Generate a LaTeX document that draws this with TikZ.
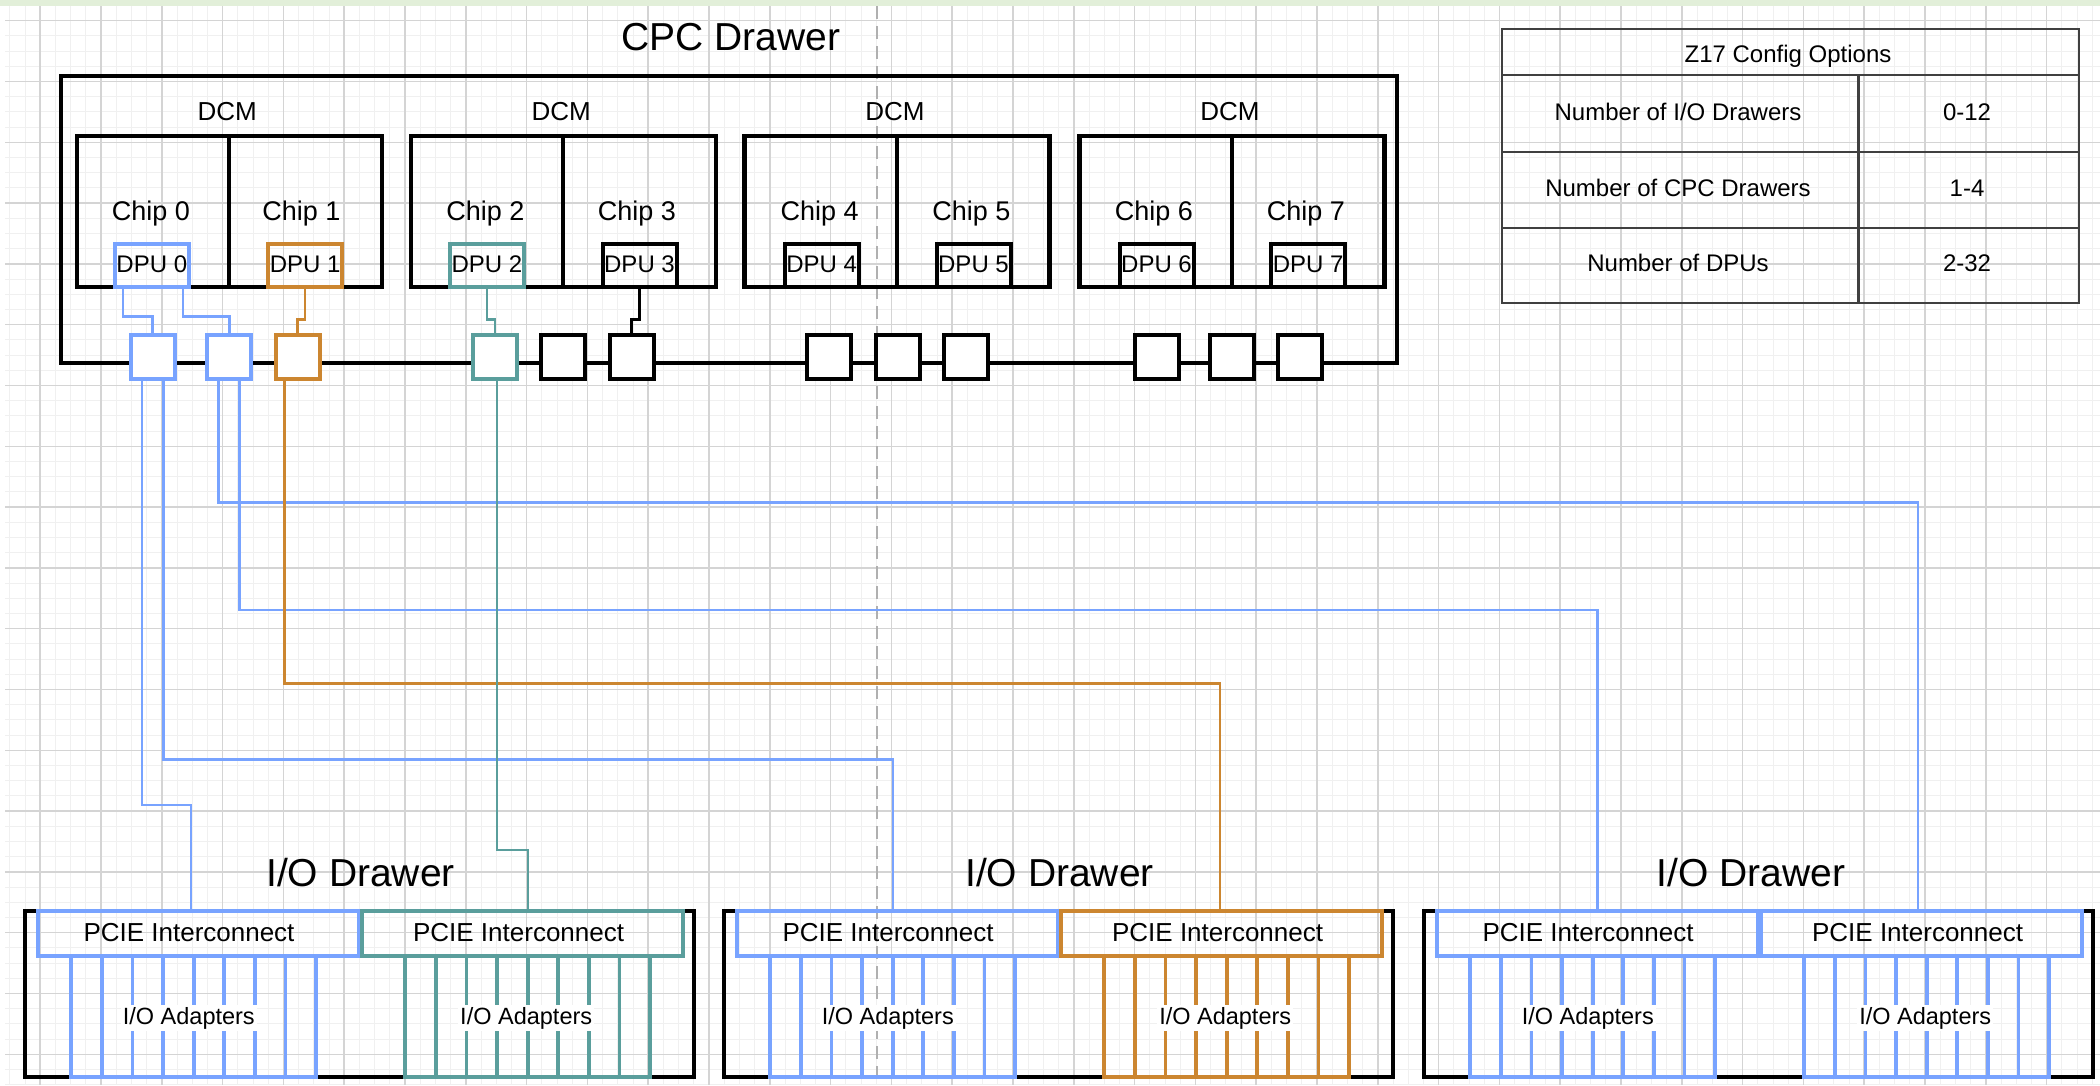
\documentclass[tikz,border=0pt]{standalone}
\usepackage{fontspec}
\setmainfont{Liberation Sans}
\usetikzlibrary{calc}
\definecolor{cblue}{HTML}{78A3FF}
\definecolor{cteal}{HTML}{5A9E9C}
\definecolor{corange}{HTML}{CC8630}
\definecolor{gmaj}{HTML}{D4D4D4}
\definecolor{gmin}{HTML}{F0F0F0}
\definecolor{band}{HTML}{E2EFD9}
\definecolor{dashg}{HTML}{B0B0B0}
\definecolor{tabline}{HTML}{404040}
\newcommand\fs[1]{\fontsize{#1}{#1}\selectfont}
\begin{document}
\begin{tikzpicture}[x=1pt,y=-1pt,
  blk/.style={draw=black,line width=4.2pt},
  cbox/.style={line width=4pt,inner sep=0pt,outer sep=0pt},
  port/.style={cbox,fill=white,minimum width=44pt,minimum height=44pt},
  dpubox/.style={cbox,minimum width=74pt,minimum height=43.8pt},
  dcmbox/.style={blk,inner sep=0pt,outer sep=0pt,minimum width=305pt,minimum height=151.6pt},
  pcie/.style={cbox,minimum width=321pt,minimum height=45.3pt},
  conn/.style={line width=2.6pt},
  lbl/.style={anchor=base,inner sep=0pt,font=\fs{#1}},
]
\useasboundingbox (0,0) rectangle (2100,1085);
% background and grid
\fill[white] (0,0) rectangle (2100,1085);
\foreach \i in {0,...,137} \draw[gmin,line width=1pt] ({9.8+15.2*\i},0) -- ({9.8+15.2*\i},1085);
\foreach \i in {0,...,71} \draw[gmin,line width=1pt] (0,{5.5+15.2*\i}) -- (2100,{5.5+15.2*\i});
\foreach \i in {0,...,33} \draw[gmaj,line width=1.5pt] ({40.2+60.8*\i},0) -- ({40.2+60.8*\i},1085);
\foreach \i in {0,...,17} \draw[gmaj,line width=1.5pt] (0,{20.7+60.8*\i}) -- (2100,{20.7+60.8*\i});
\fill[white] (0,0) rectangle (5,1085);
\fill[band] (0,0) rectangle (2100,6);
\draw[dashg,line width=2.8pt,dash pattern=on 13pt off 7pt] (877,6) -- (877,1085);

% CPC drawer
\node[lbl=39] (cpct) at (731,50.7) {CPC Drawer};
\node[blk,inner sep=0pt,outer sep=0pt,minimum width=1336.1pt,minimum height=287.3pt] (cpc) at (729.25,219.65) {};

\foreach \n/\cx in {1/229.25,2/563.15,3/897,4/1232}{
  \node[dcmbox] (dcm\n) at (\cx,211.5) {};
  \draw[blk] (dcm\n.north) -- (dcm\n.south);
  \node[lbl=26] (dcml\n) at (\cx-2,120.7) {DCM};
}
\foreach \n/\cx in {0/150.9,1/301.3,2/485.3,3/637,4/819.6,5/971.4,6/1154,7/1305.8}{
  \node[lbl=27] (chip\n) at (\cx,220) {Chip \n};
}
\foreach \n/\cx/\col in {0/151.8/cblue,1/305.1/corange,2/487/cteal,3/639.5/black,4/821.6/black,5/973.5/black,6/1156.5/black,7/1308.2/black}{
  \node[dpubox,draw=\col] (dpu\n) at (\cx,265.4) {};
  \node[lbl=24] (dput\n) at (\cx,272.7) {DPU \n};
}

% connectors DPU -> ports
\draw[conn,cblue] ([xshift=-29pt]dpu0.south) -- ++(0,29.4) -| (229.2-76.7,334.7);
\draw[conn,cblue] ([xshift=31.2pt]dpu0.south) -- ++(0,29.4) -| (229.2,334.7);
\draw[conn,corange] (dpu1.south) -- ++(0,32) -| (297.5,334.7);
\draw[conn,cteal] (dpu2.south) -- ++(0,32) -| (495,334.7);
\draw[conn,black] (dpu3.south) -- ++(0,32) -| (631.7,334.7);

% ports
\foreach \n/\cx/\col in {A/152.5/cblue,B/229.2/cblue,C/297.5/corange,D/495/cteal,E/563/black,F/631.7/black,G/828.8/black,H/897.5/black,I/966.3/black,J/1156.5/black,K/1232.4/black,L/1300.3/black}{
  \node[port,draw=\col] (p\n) at (\cx,356.7) {};
}

% table
\node[draw=tabline,line width=2.2pt,inner sep=0pt,minimum width=576.8pt,minimum height=274pt] (tab) at (1790.2,166.3) {};
\draw[tabline,line width=2.2pt] (1501.8,75) -- (2078.6,75);
\draw[tabline,line width=2.2pt] (1501.8,151.7) -- (2078.6,151.7);
\draw[tabline,line width=2.2pt] (1501.8,228.3) -- (2078.6,228.3);
\draw[tabline,line width=2.2pt] (1858.5,75) -- (tab.south -| 1858.5,0);
\node[lbl=24] (th) at (1788,62.7) {Z17 Config Options};
\node[lbl=24] (tr1) at (1678,120) {Number of I/O Drawers};
\node[lbl=24] (tv1) at (1967,120) {0-12};
\node[lbl=24] (tr2) at (1678,196.7) {Number of CPC Drawers};
\node[lbl=24] (tv2) at (1967,196.7) {1-4};
\node[lbl=24] (tr3) at (1678,271.7) {Number of DPUs};
\node[lbl=24] (tv3) at (1967,271.7) {2-32};

% I/O drawers
\foreach \n/\ox/\ca/\cb/\tx in {1/0/cblue/cteal/360.5,2/699/cblue/corange/1059.5,3/1399/cblue/cblue/1751}{
  \node[lbl=39] (iot\n) at (\tx,886) {I/O Drawer};
  \node[blk,inner sep=0pt,outer sep=0pt,minimum width=669pt,minimum height=166.6pt] (io\n) at (\ox+359.8,994) {};
  \node[pcie,draw=\ca] (pa\n) at (\ox+198.5,933.35) {};
  \node[pcie,draw=\cb] (pb\n) at (\ox+522.5,933.35) {};
  \node[lbl=26] (pat\n) at (\ox+189,941.7) {PCIE Interconnect};
  \node[lbl=26] (pbt\n) at (\ox+518.6,941.7) {PCIE Interconnect};
  \draw[\ca,line width=3.8pt] (\ox+71.2,956) rectangle (\ox+316,1077.3);
  \foreach \k in {1,...,7} \draw[\ca,line width=3.8pt] ({\ox+71.2+30.6*\k},956) -- ({\ox+71.2+30.6*\k},1077.3);
  \draw[\cb,line width=3.8pt] (\ox+405.3,956) rectangle (\ox+650.1,1077.3);
  \foreach \k in {1,...,7} \draw[\cb,line width=3.8pt] ({\ox+405.3+30.6*\k},956) -- ({\ox+405.3+30.6*\k},1077.3);
  \node[lbl=23.5,fill=white,inner sep=2pt] (aa\n) at (\ox+188.8,1024.3) {I/O Adapters};
  \node[lbl=23.5,fill=white,inner sep=2pt] (ab\n) at (\ox+526.2,1024.3) {I/O Adapters};
}

% long connectors
\coordinate (r1) at (191,805);
\coordinate (r2) at (892.8,759.3);
\coordinate (r3) at (1918,502.7);
\coordinate (r4) at (1597.6,610);
\coordinate (r5) at (1220,683.3);
\coordinate (r6) at (528,850);
\draw[conn,cblue] ([xshift=-10.5pt]pA.south) |- (r1) -- (pa1.north -| r1);
\draw[conn,cblue] ([xshift=11pt]pA.south) |- (r2) -- (pa2.north -| r2);
\draw[conn,cblue] ([xshift=-10.7pt]pB.south) |- (r3) -- (pb3.north -| r3);
\draw[conn,cblue] ([xshift=10.3pt]pB.south) |- (r4) -- (pa3.north -| r4);
\draw[conn,corange] ([xshift=-12.8pt]pC.south) |- (r5) -- (pb2.north -| r5);
\draw[conn,cteal] ([xshift=2pt]pD.south) |- (r6) -- (pb1.north -| r6);
\end{tikzpicture}
\end{document}
